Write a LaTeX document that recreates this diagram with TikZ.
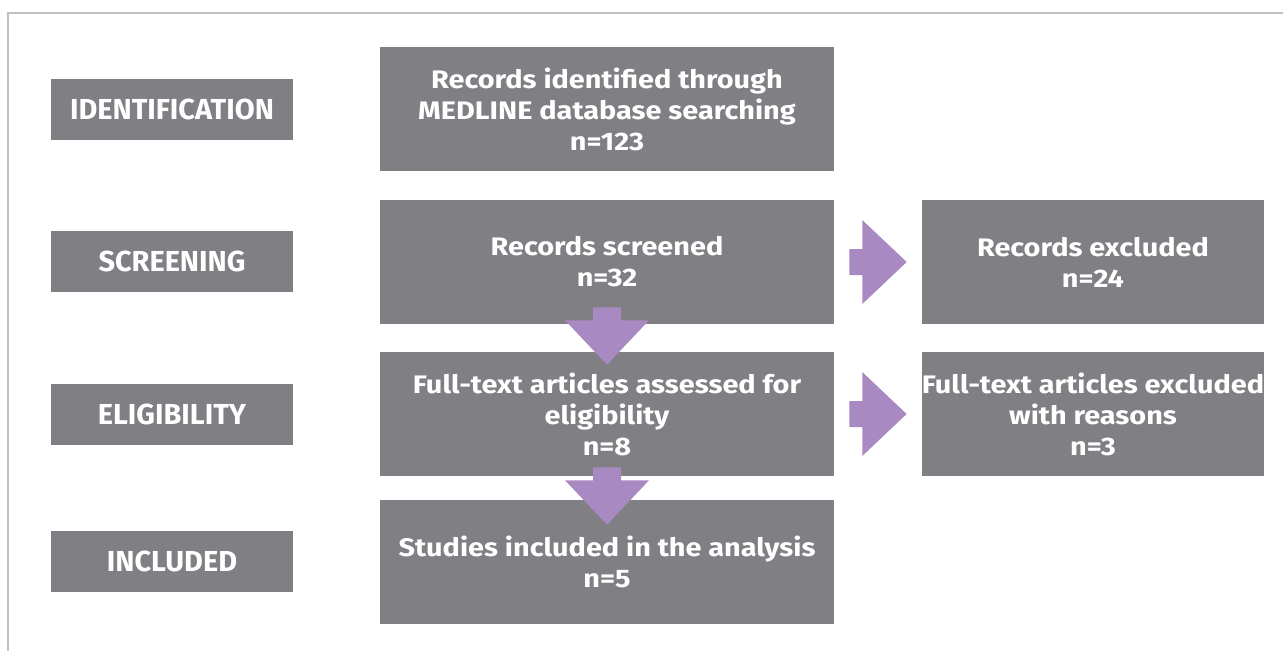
\documentclass[tikz,border=0pt]{standalone}
\usepackage{fontspec}
\setmainfont{Fira Sans}
\newfontfamily\widefira[FakeStretch=1.14]{Fira Sans}
\usetikzlibrary{calc}
\definecolor{boxgray}{HTML}{808084}
\definecolor{arrowpurple}{HTML}{A889C2}
\definecolor{framegray}{HTML}{C0C0C0}
\begin{document}
\begin{tikzpicture}[x=0.75pt, y=-0.75pt,
    stagebox/.style = {fill=boxgray, text=white, minimum width=181.5pt, minimum height=45.75pt,
                       inner sep=0pt, font=\fontsize{21.7}{24}\selectfont\bfseries},
    flowbox/.style  = {fill=boxgray, text=white, minimum width=340.5pt, minimum height=93pt,
                       inner sep=0pt, align=center, font=\widefira\fontsize{19}{23.25}\selectfont\bfseries},
    sidebox/.style  = {flowbox, minimum width=256.5pt},
    blockarrow/.style = {fill=arrowpurple, draw=none}]
    \useasboundingbox (0,0) rectangle (1283,651);
    \draw[framegray, line width=1pt] (1283,13) -- (8,13) -- (8,651);

    \node[stagebox] (ident) at (172,109.5) {IDENTIFICATION};
    \node[stagebox] (screen) at (172,261.5) {SCREENING};
    \node[stagebox] (elig) at (172,414.5) {ELIGIBILITY};
    \node[stagebox] (incl) at (172,561.5) {INCLUDED};

    \node[flowbox] (records) at (607,109) {Records identified through\\MEDLINE database searching\\n=123};
    \node[flowbox] (screened) at (607,262) {Records screened\\n=32};
    \node[flowbox] (fulltext) at (607,414) {Full-text articles assessed for\\eligibility\\n=8};
    \node[flowbox] (studies) at (607,562) {Studies included in the analysis\\n=5};

    \node[sidebox] (excluded) at (1093,262) {Records excluded\\n=24};
    \node[sidebox] (reasons) at (1093,414) {Full-text articles excluded\\with reasons\\n=3};

    \fill[blockarrow] ($(screened.south)+(-14,-17)$) -- ($(screened.south)+(14,-17)$)
        -- ($(screened.south)+(14,-4)$) -- ($(screened.south)+(42,-4)$)
        -- ($(fulltext.north)+(0,13)$) -- ($(screened.south)+(-42,-4)$)
        -- ($(screened.south)+(-14,-4)$) -- cycle;
    \fill[blockarrow] ($(fulltext.south)+(-14,-9)$) -- ($(fulltext.south)+(14,-9)$)
        -- ($(fulltext.south)+(14,4)$) -- ($(fulltext.south)+(42,4)$)
        -- ($(studies.north)+(0,25)$) -- ($(fulltext.south)+(-42,4)$)
        -- ($(fulltext.south)+(-14,4)$) -- cycle;

    \fill[blockarrow] ($(screened.east)+(15,-13)$) -- ($(screened.east)+(28,-13)$)
        -- ($(screened.east)+(28,-42)$) -- ($(excluded.west)+(-15,0)$)
        -- ($(screened.east)+(28,42)$) -- ($(screened.east)+(28,13)$)
        -- ($(screened.east)+(15,13)$) -- cycle;
    \fill[blockarrow] ($(fulltext.east)+(15,-13)$) -- ($(fulltext.east)+(28,-13)$)
        -- ($(fulltext.east)+(28,-42)$) -- ($(reasons.west)+(-15,0)$)
        -- ($(fulltext.east)+(28,42)$) -- ($(fulltext.east)+(28,13)$)
        -- ($(fulltext.east)+(15,13)$) -- cycle;
\end{tikzpicture}
\end{document}
